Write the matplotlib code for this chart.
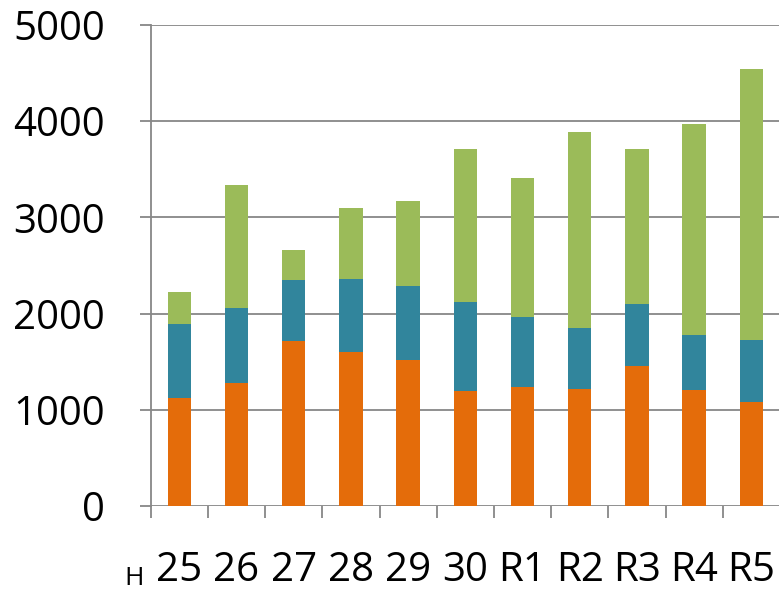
import numpy as np
import matplotlib.pyplot as plt
from matplotlib.ticker import FixedLocator

plt.rcParams['font.family'] = ['Open Sans', 'DejaVu Sans']

# 年度ラベル
years = ['25', '26', '27', '28', '29', '30', 'R1', 'R2', 'R3', 'R4', 'R5']

# 各系列の値（積み上げ）
orange = [1120, 1276, 1712, 1601, 1515, 1192, 1234, 1213, 1452, 1203, 1078]
teal = [769, 779, 636, 758, 769, 926, 728, 634, 645, 572, 645]
green = [335, 1281, 312, 738, 886, 1593, 1447, 2040, 1614, 2196, 2819]

c_orange = '#E46C0A'
c_teal = '#31859C'
c_green = '#9BBB59'
grid_c = '#878787'

fig = plt.figure(figsize=(7.79, 5.91), dpi=100)
ax = fig.add_axes([150.7 / 779, 85 / 591, 629.3 / 779, 481 / 591])

x = np.arange(len(years))
w = 0.41
b1 = np.array(orange)
b2 = b1 + np.array(teal)
ax.bar(x, orange, width=w, color=c_orange, zorder=2)
ax.bar(x, teal, width=w, bottom=b1, color=c_teal, zorder=2)
ax.bar(x, green, width=w, bottom=b2, color=c_green, zorder=2)

ax.set_xlim(-0.5, len(years) - 0.5)
ax.set_ylim(0, 5000)
ax.set_yticks(range(0, 5001, 1000))

# 横グリッド
ax.grid(axis='y', color=grid_c, linewidth=1.3, zorder=0)
ax.set_axisbelow(True)

for s in ['top', 'right', 'bottom']:
    ax.spines[s].set_visible(False)
ax.spines['left'].set_color(grid_c)
ax.spines['left'].set_linewidth(1.3)

ax.set_xticks(x)
ax.set_xticklabels(years)
ax.xaxis.set_minor_locator(FixedLocator(np.arange(-0.5, len(years), 1.0)))
ax.tick_params(axis='x', which='major', length=0, pad=32, labelsize=29)
ax.tick_params(axis='x', which='minor', length=8.5, width=1.3, color=grid_c, direction='out')
ax.tick_params(axis='y', length=8, width=1.3, color=grid_c, pad=25, labelsize=29)

# 平成の「H」
fig.text(134 / 779, 6 / 591, 'H', fontsize=19, ha='center', va='baseline')

fig.savefig('out.png', dpi=100)
